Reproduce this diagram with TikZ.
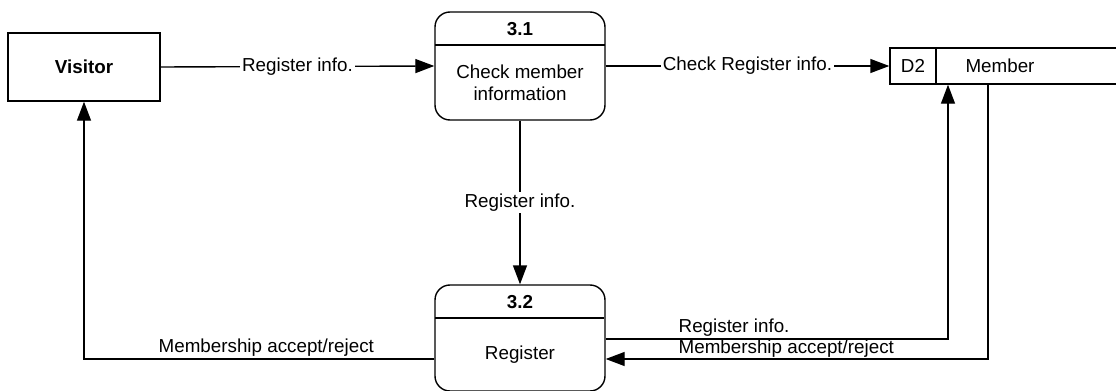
\documentclass[tikz,border=0pt]{standalone}
\usepackage{fontspec}
\setmainfont{Liberation Sans}
\usetikzlibrary{arrows.meta,calc}
\begin{document}
\begin{tikzpicture}[x=0.5pt,y=-0.5pt,
  font=\fontsize{9.4}{11}\selectfont,
  line width=0.7pt,
  entity/.style={draw,rectangle,minimum width=76pt,minimum height=34pt,inner sep=0pt,font=\fontsize{9.4}{11}\selectfont\bfseries},
  proc/.style={draw,rectangle,rounded corners=7.5pt,minimum width=85pt,inner sep=0pt},
  flow/.style={-{Triangle[length=9.5pt,width=7pt]}},
  lbl/.style={fill=white,inner sep=1pt},
  num/.style={font=\fontsize{9.4}{11}\selectfont\bfseries}
]
\useasboundingbox (0,0) rectangle (1116,391);
% external entity
\node[entity] (visitor) at (84,67) {Visitor};
% process 3.1
\node[proc,minimum height=54pt] (p31) at (520,66) {};
\draw (435,45) -- (605,45);
\node[num] (n31) at (520,29) {3.1};
\node[align=center] (t31) at (520,83) {Check member\\information};
% process 3.2
\node[proc,minimum height=53pt] (p32) at (520,338) {};
\draw (435,318) -- (604,318);
\node[num] (n32) at (520,302) {3.2};
\node (t32) at (520,355) {Register};
% data store D2
\node[minimum width=23pt,minimum height=18pt,inner sep=0pt] (d2) at (913,66) {D2};
\node (member) at (1000,66) {Member};
\draw (1116,48) -- (890,48) -- (890,84) -- (1116,84);
\draw (936,48) -- (936,84);
% flows
\draw[flow] (visitor.east) -- node[lbl] {Register info.} (p31.west);
\draw[flow] (p31.east) -- node[lbl] {Check Register info.} (d2.west);
\draw[flow] (p31.south) -- node[lbl] {Register info.} (p32.north);
\coordinate (ca) at (948,339);
\draw[flow] (p32.east |- ca) -- (ca) -- (ca |- d2.south);
\node[anchor=south west,inner sep=1pt] (la) at (676,339) {Register info.};
\coordinate (cb) at (988,359);
\draw[flow] (cb |- d2.south) -- (cb) -- (p32.east |- cb);
\node[anchor=south west,inner sep=0.5pt] (lb) at (677,359) {Membership accept/reject};
\coordinate (cc) at (84,359);
\draw[flow] (p32.west |- cc) -- (cc) -- (cc |- visitor.south);
\node[anchor=south west,inner sep=1pt] (lc) at (156,359) {Membership accept/reject};
\end{tikzpicture}
\end{document}
